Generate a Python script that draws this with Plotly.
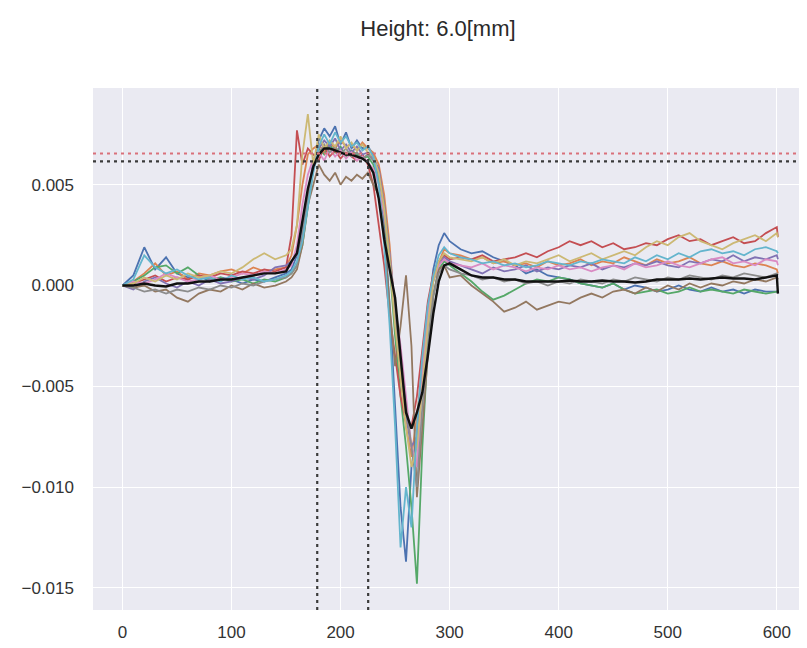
import plotly.graph_objects as go

# x sample positions (samples)
X = [0, 10, 20, 30, 40, 50, 60, 70, 80, 90, 100, 110, 120, 130, 140, 150,
     155, 160, 165, 170, 175, 180, 185, 190, 195, 200, 205, 210, 215, 220, 225,
     230, 235, 240, 245, 250, 255, 260, 265, 270, 275, 280, 285, 290, 295, 300,
     310, 320, 330, 340, 350, 360, 370, 380, 390, 400, 410, 420, 430, 440, 450,
     460, 470, 480, 490, 500, 510, 520, 530, 540, 550, 560, 570, 580, 590, 600, 601]

SCALE = 1e-3  # values below are in units of 1e-3

S_BLUE = [0.0, 0.5, 1.9, 0.8, 1.4, 0.6, 0.4, 0.5, 0.2, 0.4, 0.3, 0.1, 0.3, 0.2, 0.4, 0.6,
          0.8, 1.5, 3.0, 4.5, 6.0, 7.2, 7.8, 7.4, 7.9, 7.0, 7.6, 6.8, 7.2, 6.8, 6.9,
          6.5, 5.5, 3.0, -1.0, -6.0, -11.0, -13.7, -9.0, -7.5, -4.0, -1.5, 0.8, 2.0, 2.6, 2.2,
          1.8, 1.6, 1.7, 1.4, 1.2, 1.0, 0.6, 0.8, 0.5, 0.4, 0.3, 0.1, 0.0, -0.1, 0.1,
          -0.2, 0.0, -0.1, -0.3, -0.2, 0.0, -0.2, -0.3, -0.1, -0.3, -0.2, -0.4, -0.2, -0.3, -0.3, -0.3]
S_ORANGE = [0.0, 0.2, 0.6, 1.1, 0.5, 0.7, 0.3, 0.6, 0.5, 0.7, 0.8, 0.6, 0.9, 0.7, 0.8, 0.9,
            1.5, 3.0, 5.0, 6.5, 6.8, 7.0, 6.6, 7.1, 6.8, 7.2, 6.9, 7.0, 6.7, 7.1, 6.8,
            6.6, 6.0, 4.5, 2.0, -1.5, -4.5, -7.0, -8.5, -6.5, -4.0, -1.0, 0.5, 1.2, 1.8, 1.6,
            1.5, 1.3, 1.4, 1.1, 1.2, 1.0, 1.1, 0.9, 1.2, 1.0, 1.1, 1.3, 1.0, 1.2, 1.1,
            1.4, 1.2, 1.0, 1.3, 1.1, 1.2, 1.4, 1.1, 1.0, 1.2, 1.0, 0.9, 1.1, 1.0, 0.8, 0.6]
S_GREEN = [0.0, 0.2, 0.5, 0.9, 1.0, 0.6, 0.9, 0.5, 0.3, 0.4, 0.2, 0.3, 0.1, 0.3, 0.2, 0.4,
           0.6, 1.0, 2.0, 4.0, 5.8, 6.8, 6.5, 7.0, 6.6, 6.9, 6.4, 6.7, 6.5, 6.3, 6.4,
           6.0, 5.2, 3.5, 1.0, -2.5, -5.5, -8.0, -11.0, -14.8, -8.0, -3.0, -0.5, 0.8, 1.2, 1.0,
           0.6, 0.2, -0.3, -0.7, -0.5, -0.2, 0.1, 0.3, 0.2, 0.4, 0.3, 0.1, 0.0, -0.1, 0.1,
           -0.2, -0.4, -0.3, -0.2, -0.4, -0.3, -0.1, -0.3, -0.2, -0.3, -0.4, -0.2, -0.3, -0.4, -0.3, -0.3]
S_RED = [0.0, 0.1, 0.3, 0.5, 0.2, 0.4, 0.3, 0.5, 0.4, 0.6, 0.5, 0.7, 0.6, 0.8, 0.7, 0.9,
         2.5, 7.7, 6.0, 6.8, 6.5, 6.2, 6.9, 6.4, 6.7, 6.3, 6.6, 6.4, 6.2, 6.5, 6.0,
         5.0, 3.0, 1.0, -1.5, -3.5, -5.5, -6.8, -7.0, -5.5, -3.0, -0.8, 0.6, 1.2, 1.5, 1.3,
         1.4, 1.3, 1.5, 1.2, 1.3, 1.4, 1.6, 1.4, 1.7, 1.9, 2.2, 2.0, 2.2, 1.9, 2.1,
         1.8, 1.9, 2.1, 2.0, 2.3, 2.5, 2.2, 2.3, 2.0, 2.2, 2.4, 2.1, 2.2, 2.6, 2.9, 2.4]
S_PURPLE = [0.0, -0.2, 0.2, 0.4, 0.1, -0.1, 0.2, 0.0, 0.3, 0.1, 0.2, 0.4, 0.3, 0.5, 0.9, 1.0,
            1.2, 1.5, 2.5, 4.5, 6.2, 6.8, 7.2, 6.9, 7.3, 6.7, 7.0, 6.6, 6.9, 6.5, 6.6,
            6.3, 5.8, 4.0, 1.5, -1.5, -4.0, -6.5, -8.0, -7.5, -5.0, -2.0, 0.2, 1.0, 1.4, 1.2,
            1.0, 0.8, 0.6, 0.9, 0.7, 0.8, 1.0, 0.7, 0.9, 0.8, 1.0, 0.9, 1.1, 0.8, 1.0,
            0.9, 1.1, 1.0, 1.2, 1.0, 0.9, 1.2, 1.1, 1.3, 1.2, 1.5, 1.2, 1.4, 1.3, 1.5, 1.3]
S_BROWN = [0.0, -0.1, 0.0, -0.3, -0.2, -0.6, -0.8, -0.4, -0.2, -0.3, 0.0, -0.2, 0.1, -0.1, 0.0, 0.2,
           0.4, 0.8, 2.0, 4.0, 5.0, 6.0, 5.5, 5.2, 5.6, 5.0, 5.4, 5.2, 5.5, 5.3, 5.6,
           5.0, 4.5, 2.5, -1.0, -4.0, -2.0, 0.5, -3.0, -10.5, -7.0, -3.5, -0.5, 0.8, 1.0, 0.4,
           0.5, 0.0, -0.4, -0.8, -1.3, -1.1, -0.8, -1.2, -1.0, -0.8, -0.9, -0.6, -0.4, -0.6, -0.3,
           -0.2, -0.4, -0.1, -0.3, 0.0, -0.2, 0.1, -0.1, 0.1, 0.0, 0.2, 0.1, 0.3, 0.2, 0.4, 0.3]
S_PINK = [0.0, 0.2, 0.1, 0.3, 0.6, 0.4, 0.2, 0.3, 0.5, 0.3, 0.4, 0.6, 0.5, 0.7, 0.6, 0.8,
          1.0, 2.0, 4.0, 5.5, 6.3, 6.6, 6.2, 6.8, 6.4, 6.7, 6.3, 6.6, 6.2, 6.4, 6.1,
          5.8, 5.0, 3.5, 1.5, -1.0, -3.0, -5.5, -8.0, -9.0, -4.5, -1.5, 0.3, 1.0, 1.3, 1.1,
          1.0, 0.9, 1.1, 0.8, 1.0, 0.9, 0.7, 0.9, 0.8, 1.0, 0.8, 0.9, 0.7, 0.9, 1.0,
          0.8, 1.1, 0.9, 1.0, 1.2, 1.0, 0.9, 1.1, 1.3, 1.4, 1.1, 1.2, 1.0, 1.3, 1.2, 1.0]
S_GRAY = [0.0, -0.1, -0.3, -0.2, -0.4, -0.2, -0.3, -0.1, -0.2, 0.0, -0.1, 0.1, 0.0, 0.2, 0.3, 0.4,
          0.6, 1.0, 2.5, 4.5, 5.8, 6.5, 7.0, 6.6, 6.9, 6.5, 6.8, 6.4, 6.6, 6.3, 6.5,
          6.2, 5.5, 4.0, 1.5, -1.0, -4.0, -6.0, -8.0, -10.0, -6.0, -3.0, -0.5, 0.6, 1.0, 0.8,
          0.6, 0.5, 0.3, 0.4, 0.2, 0.3, 0.1, 0.2, 0.0, 0.2, 0.1, 0.3, 0.2, 0.1, 0.3,
          0.2, 0.4, 0.3, 0.2, 0.4, 0.3, 0.5, 0.4, 0.3, 0.5, 0.4, 0.6, 0.5, 0.4, 0.6, 0.5]
S_OLIVE = [0.0, 0.1, 0.4, 0.2, 0.5, 0.3, 0.6, 0.4, 0.5, 0.7, 0.6, 0.9, 1.3, 1.6, 1.3, 1.5,
           1.8, 3.0, 6.5, 8.5, 6.0, 7.5, 6.8, 7.2, 6.9, 7.4, 6.8, 7.1, 6.7, 7.0, 6.6,
           6.4, 5.6, 3.8, 1.2, -2.0, -4.5, -7.0, -9.0, -8.0, -5.0, -2.0, 0.2, 1.2, 1.6, 1.4,
           1.3, 1.2, 1.4, 1.1, 1.3, 1.0, 1.2, 1.1, 1.3, 1.5, 1.2, 1.4, 1.6, 1.3, 1.5,
           1.7, 1.5, 1.9, 2.2, 2.0, 2.4, 2.6, 2.2, 2.0, 1.8, 2.1, 2.3, 2.5, 2.2, 2.6, 2.4]
S_CYAN = [0.0, 0.3, 1.5, 0.9, 0.6, 0.8, 0.5, 0.3, 0.4, 0.2, 0.5, 0.3, 0.4, 0.2, 0.3, 0.5,
          0.7, 1.2, 2.2, 3.8, 5.6, 6.9, 7.5, 7.0, 7.6, 7.1, 7.4, 6.9, 7.1, 6.7, 6.9,
          6.4, 5.0, 2.0, -2.0, -7.0, -13.0, -10.0, -12.0, -7.0, -3.5, -1.0, 0.5, 1.5, 1.9, 1.6,
          1.4, 1.3, 1.1, 1.2, 1.0, 1.1, 0.9, 1.0, 1.2, 1.1, 1.0, 1.2, 1.1, 1.3, 1.2,
          1.1, 1.4, 1.2, 1.5, 1.3, 1.6, 1.4, 1.7, 1.8, 1.6, 1.7, 1.5, 1.8, 1.9, 1.7, 1.6]
S_MEAN = [0.0, 0.0, 0.1, 0.0, -0.05, 0.1, 0.1, 0.2, 0.2, 0.3, 0.3, 0.4, 0.5, 0.6, 0.6, 0.7,
          1.2, 1.6, 3.2, 4.8, 5.9, 6.5, 6.8, 6.8, 6.7, 6.6, 6.5, 6.5, 6.4, 6.3, 6.1,
          5.6, 4.3, 2.3, 0.8, -0.6, -3.5, -6.3, -7.1, -6.3, -5.3, -3.5, -1.4, 0.2, 1.0, 1.1,
          0.8, 0.5, 0.4, 0.4, 0.3, 0.3, 0.2, 0.2, 0.2, 0.2, 0.25, 0.2, 0.2, 0.25, 0.2,
          0.2, 0.15, 0.2, 0.3, 0.3, 0.3, 0.35, 0.3, 0.35, 0.4, 0.35, 0.35, 0.3, 0.4, 0.5, -0.4]

SERIES = [S_BLUE, S_ORANGE, S_GREEN, S_RED, S_PURPLE, S_BROWN, S_PINK, S_GRAY, S_OLIVE, S_CYAN]
COLORS = ["#4C72B0", "#DD8452", "#55A868", "#C44E52", "#8172B3",
          "#937860", "#DA8BC3", "#8C8C8C", "#CCB974", "#64B5CD"]

VLINES = [178.6, 225.3]           # x positions of dotted vertical markers
HLINE_RED = 0.00655               # dotted red threshold
HLINE_BLACK = 0.00616             # dotted black threshold

X_TICKS = [0, 100, 200, 300, 400, 500, 600]
Y_TICKS = [-0.015, -0.010, -0.005, 0.0, 0.005]
Y_TICKTEXT = ["\u22120.015", "\u22120.010", "\u22120.005", "0.000", "0.005"]

fig = go.Figure()
for s, c in zip(SERIES, COLORS):
    fig.add_trace(go.Scatter(x=X, y=[v * SCALE for v in s], mode="lines",
                             line=dict(color=c, width=1.8), showlegend=False,
                             hoverinfo="skip"))
fig.add_trace(go.Scatter(x=X, y=[v * SCALE for v in S_MEAN], mode="lines",
                         line=dict(color="#111111", width=2.4), showlegend=False))

for xv in VLINES:
    fig.add_vline(x=xv, line=dict(color="#3a3a3a", width=2.2, dash="3px,4px"))
fig.add_hline(y=HLINE_RED, line=dict(color="#d9707a", width=2.2, dash="3px,4px"))
fig.add_hline(y=HLINE_BLACK, line=dict(color="#3a3a3a", width=2.2, dash="3px,4px"))

font_family = "Liberation Sans, Arial, sans-serif"
W, H = 799, 640  # page body has an 8px margin
fig.update_layout(
    width=W, height=H,
    margin=dict(l=85, r=4, t=80, b=38),
    paper_bgcolor="white",
    plot_bgcolor="#EAEAF2",
    font=dict(family=font_family, size=17, color="#333333"),
    title=dict(text="Height: 6.0[mm]", x=430 / W, xref="container", xanchor="center",
               y=1 - 20 / H, yref="container", yanchor="middle",
               font=dict(size=22, color="#2a2a2a", family=font_family)),
    xaxis=dict(range=[-27, 624], tickvals=X_TICKS, showgrid=True, gridcolor="white",
               gridwidth=1.4, zeroline=False, showline=False, ticks="",
               ticklabelstandoff=10, tickfont=dict(size=17, color="#333333")),
    yaxis=dict(range=[-0.0161, 0.0098], tickvals=Y_TICKS, ticktext=Y_TICKTEXT,
               showgrid=True, gridcolor="white", gridwidth=1.4, zeroline=False,
               showline=False, ticks="", ticklabelstandoff=18,
               tickfont=dict(size=17, color="#333333")),
)

fig.write_html("out.html")
